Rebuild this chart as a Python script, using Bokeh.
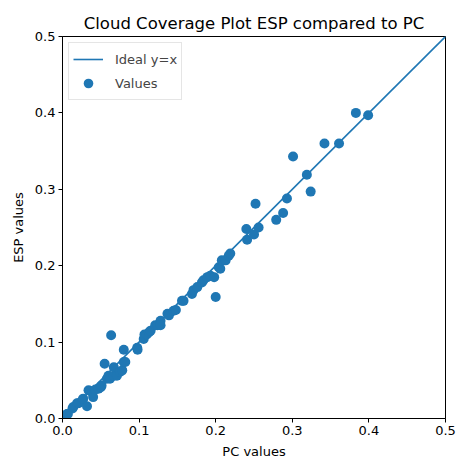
from bokeh.plotting import figure
from bokeh.models import FixedTicker, PrintfTickFormatter, Range1d, Legend, LegendItem
from bokeh.embed import file_html
from bokeh.resources import INLINE

# Ideal line
ideal_x = [0.0, 0.5]
ideal_y = [0.0, 0.5]

# Observed values (PC vs ESP)
pc_values = [0.003, 0.006, 0.007, 0.013, 0.014, 0.019, 0.021, 0.026, 0.027, 0.032,
             0.034, 0.036, 0.040, 0.043, 0.047, 0.050, 0.051, 0.055, 0.058, 0.060,
             0.062, 0.0635, 0.067, 0.067, 0.071, 0.075, 0.078, 0.080, 0.080, 0.082,
             0.0975, 0.098, 0.106, 0.107, 0.110, 0.113, 0.115, 0.121, 0.124, 0.128,
             0.128, 0.137, 0.139, 0.145, 0.148, 0.156, 0.158, 0.169, 0.171, 0.176,
             0.182, 0.184, 0.189, 0.193, 0.198, 0.200, 0.204, 0.206, 0.208, 0.213,
             0.217, 0.219, 0.240, 0.241, 0.250, 0.252, 0.256, 0.279, 0.288, 0.293,
             0.301, 0.319, 0.324, 0.342, 0.361, 0.383, 0.399]
esp_values = [0.004, 0.006, 0.006, 0.013, 0.015, 0.020, 0.020, 0.024, 0.026, 0.016,
              0.037, 0.036, 0.028, 0.038, 0.039, 0.041, 0.043, 0.0716, 0.052, 0.056,
              0.052, 0.109, 0.067, 0.056, 0.056, 0.061, 0.063, 0.074, 0.090, 0.074,
              0.0925, 0.0899, 0.104, 0.110, 0.110, 0.113, 0.115, 0.122, 0.122, 0.128,
              0.122, 0.137, 0.135, 0.141, 0.142, 0.154, 0.154, 0.163, 0.168, 0.172,
              0.178, 0.181, 0.185, 0.187, 0.185, 0.159, 0.198, 0.196, 0.207, 0.207,
              0.213, 0.216, 0.248, 0.234, 0.241, 0.281, 0.250, 0.260, 0.269, 0.288,
              0.343, 0.319, 0.297, 0.360, 0.360, 0.400, 0.397]

ticks = [0.0, 0.1, 0.2, 0.3, 0.4, 0.5]

BLUE = "#1f77b4"
FONT = "DejaVu Sans"

p = figure(width=457, height=462, output_backend="svg", toolbar_location=None,
           x_range=Range1d(0, 0.5), y_range=Range1d(0, 0.5),
           min_border_left=62, min_border_right=12, min_border_top=36, min_border_bottom=44,
           title="Cloud Coverage Plot ESP compared to PC")

p.title.text_font = FONT
p.title.text_font_size = "16.5px"
p.title.text_font_style = "normal"
p.title.align = "center"
p.title.text_color = "black"
p.title.offset = 0
p.title.standoff = 7

p.grid.visible = False
p.outline_line_color = "black"
p.outline_line_width = 1
p.background_fill_color = "white"
p.border_fill_color = "white"

for ax in (p.xaxis[0], p.yaxis[0]):
    ax.ticker = FixedTicker(ticks=ticks)
    ax.formatter = PrintfTickFormatter(format="%.1f")
    ax.major_label_text_font = FONT
    ax.major_label_text_font_size = "13px"
    ax.major_label_text_color = "black"
    ax.axis_label_text_font = FONT
    ax.axis_label_text_font_size = "13px"
    ax.axis_label_text_font_style = "normal"
    ax.axis_label_text_color = "black"
    ax.major_tick_out = 4
    ax.major_tick_in = 0
    ax.minor_tick_out = 0
    ax.minor_tick_in = 0
    ax.axis_line_color = "black"
    ax.major_tick_line_color = "black"

p.xaxis.axis_label = "PC values"
p.yaxis.axis_label = "ESP values"
p.xaxis.major_label_standoff = 3
p.yaxis.major_label_standoff = 3
p.xaxis.axis_label_standoff = 6
p.yaxis.axis_label_standoff = 6

ln = p.line(ideal_x, ideal_y, line_color=BLUE, line_width=1.6)
sc = p.scatter(pc_values, esp_values, size=10, fill_color=BLUE, line_color=BLUE, line_width=0)

legend = Legend(items=[LegendItem(label="Ideal y=x", renderers=[ln]),
                       LegendItem(label="Values", renderers=[sc])],
                location="top_left")
legend.label_text_font = FONT
legend.label_text_font_size = "13px"
legend.label_height = 24
legend.glyph_height = 24
legend.border_line_color = "#cccccc"
legend.border_line_width = 1
legend.margin = 6
legend.padding = 4
legend.spacing = -6
legend.glyph_width = 30
legend.label_standoff = 12
p.add_layout(legend)

open("out.html", "w").write(file_html(p, INLINE))
